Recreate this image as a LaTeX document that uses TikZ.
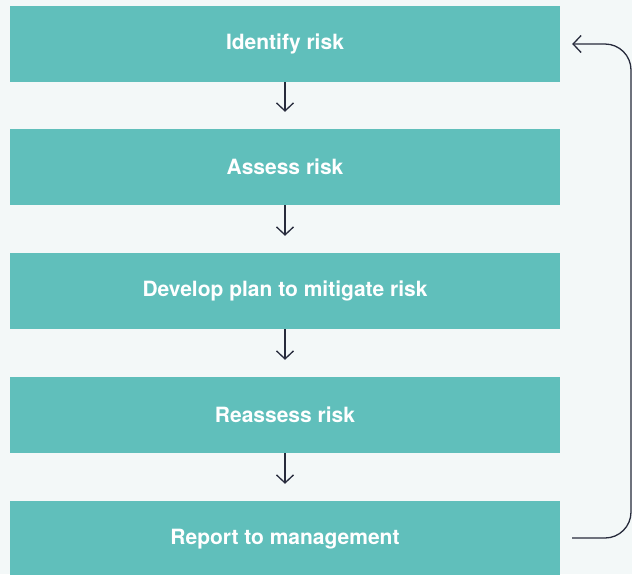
\documentclass[tikz,border=0pt]{standalone}
\usepackage{fontspec}
\setmainfont{TeX Gyre Heros}
\usetikzlibrary{arrows.meta}
\definecolor{bgc}{HTML}{F3F8F8}
\definecolor{teal}{HTML}{60BFBB}
\definecolor{ink}{HTML}{272B3C}
\tikzset{
  stepbox/.style={fill=teal, draw=none, minimum width=550pt, minimum height=76pt, inner sep=0pt,
    text=white, font=\fontsize{21}{24}\selectfont\bfseries},
  flowarrow/.style={draw=ink, line width=1.3pt, -{Straight Barb[length=8pt,width=17pt,line width=1.3pt]}},
}
\begin{document}
\begin{tikzpicture}[x=1pt,y=1pt]
\fill[bgc] (0,0) rectangle (632,-574);
\useasboundingbox (0,0) rectangle (632,-574);
\node[stepbox] (b1) at (285,-44) {Identify risk};
\node[stepbox] (b2) at (285,-167) {Assess risk};
\node[stepbox] (b3) at (285,-291) {Develop plan to mitigate risk};
\node[stepbox] (b4) at (285,-415) {Reassess risk};
\node[stepbox] (b5) at (285,-539) {Report to management};
\foreach \a/\b in {b1/b2,b2/b3,b3/b4,b4/b5}{
  \draw[flowarrow, shorten >=17pt] (\a.south) -- (\b.north);
}
\coordinate (rt) at (631,-44);
\coordinate (rb) at (631,-538);
\draw[flowarrow, rounded corners=26pt] ([xshift=12pt]b5.east |- rb) -- (rb) -- (rt) -- ([xshift=12pt]b1.east);
\end{tikzpicture}
\end{document}
